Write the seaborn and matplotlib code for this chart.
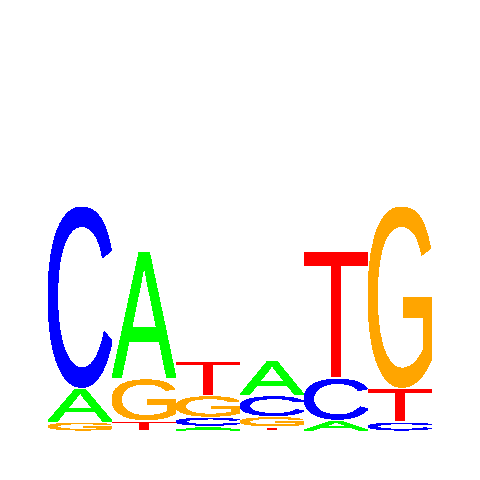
import numpy as np
import matplotlib
matplotlib.use("Agg")
import matplotlib.pyplot as plt
import seaborn as sns
from matplotlib.textpath import TextPath
from matplotlib.font_manager import FontProperties
from matplotlib.patches import PathPatch
from matplotlib.transforms import Affine2D

sns.set_style("white")

# letter heights (bits) per position
positions = [1, 2, 3, 4, 5, 6]
height_A = [0.28, 1.065, 0.04, 0.29, 0.09, 0.0]
height_C = [1.52, 0.0, 0.075, 0.175, 0.35, 0.075]
height_G = [0.075, 0.35, 0.18, 0.085, 0.0, 1.52]
height_T = [0.0, 0.085, 0.29, 0.035, 1.06, 0.28]

letter_colors = {"A": "#00ff00", "C": "#0000ff", "G": "#ffa500", "T": "#ff0000"}
font = FontProperties(family="Liberation Sans")


def draw_letter(ax, letter, x, y, w, h):
    path = TextPath((0, 0), letter, size=1, prop=font)
    ext = path.get_extents()
    pad = 0.008  # small vertical gap between stacked letters
    hh = max(h - 2 * pad, h * 0.6)
    tr = (Affine2D()
          .translate(-ext.x0, -ext.y0)
          .scale(w / ext.width, hh / ext.height)
          .translate(x, y + (h - hh) / 2))
    ax.add_patch(PathPatch(tr.transform_path(path), facecolor=letter_colors[letter],
                           edgecolor="none", antialiased=False))


fig = plt.figure(figsize=(4.8, 4.8), dpi=100)
ax = fig.add_axes([0.1, 0.102, 0.8, 0.5])

for i, pos in enumerate(positions):
    col = {"A": height_A[i], "C": height_C[i], "G": height_G[i], "T": height_T[i]}
    bottom = 0.0
    for letter, h in sorted(col.items(), key=lambda kv: kv[1]):
        if h <= 0:
            continue
        draw_letter(ax, letter, pos - 0.5, bottom, 1.0, h)
        bottom += h

ax.set_xlim(0.5, len(positions) + 0.5)
ax.set_ylim(0, 2)
ax.axis("off")

fig.savefig("out.png", dpi=100)
